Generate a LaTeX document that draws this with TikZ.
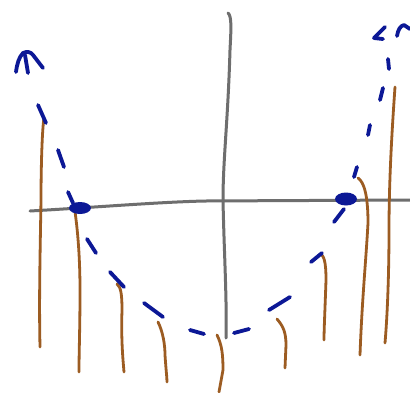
\documentclass[tikz,border=0pt]{standalone}
\definecolor{inkblue}{HTML}{0C1896}
\definecolor{inkbrown}{HTML}{9C5C22}
\definecolor{inkgray}{HTML}{6E6E6E}
\tikzset{
  axisline/.style={draw=inkgray,line width=3pt,line cap=round,line join=round},
  stick/.style={draw=inkbrown,line width=2.8pt,line cap=round,line join=round},
  dashpiece/.style={draw=inkblue,line width=3.8pt,line cap=round,line join=round},
  rootdot/.style={fill=inkblue}
}
\begin{document}
\begin{tikzpicture}[x=1pt,y=-1pt]
\useasboundingbox[fill=white] (0,0) rectangle (410,392);
% axes
\draw[axisline] (30,211) .. controls (100,207) and (160,202) .. (205,201) -- (410,200);
\draw[axisline] (228,13) .. controls (232,16) and (231,30) .. (230,50)
  .. controls (228,120) and (223,160) .. (223,200)
  .. controls (224,250) and (227,300) .. (226,338);
% brown sticks
\draw[stick] (44,118) .. controls (42,130) and (41,170) .. (41,200) .. controls (40,260) and (39,300) .. (40,347);
\draw[stick] (74,205) .. controls (78,230) and (80,260) .. (80,290) .. controls (80,330) and (79,350) .. (79,372);
\draw[stick] (117,284) .. controls (121,287) and (122,295) .. (122,310) .. controls (121,340) and (123,360) .. (124,372);
\draw[stick] (158,322) .. controls (163,332) and (165,345) .. (165,355) .. controls (166,370) and (167,378) .. (167,382);
\draw[stick] (217,335) .. controls (222,345) and (223,355) .. (223,370) -- (219,392);
\draw[stick] (277,319) .. controls (283,326) and (286,332) .. (286,345) -- (285,368);
\draw[stick] (320,254) .. controls (324,255) and (326,262) .. (326,280) .. controls (325,310) and (324,330) .. (324,340);
\draw[stick] (358,178) .. controls (364,182) and (368,195) .. (368,223) .. controls (366,260) and (362,300) .. (360,355);
\draw[stick] (395,87) .. controls (392,130) and (389,180) .. (389,230) .. controls (389,280) and (387,320) .. (385,343);
% dashed parabola pieces
\draw[dashpiece] (38,105) -- (46,123);
\draw[dashpiece] (58,150) -- (64,167);
\draw[dashpiece] (68,192) -- (73,203);
\draw[dashpiece] (87,239) -- (96,253);
\draw[dashpiece] (110,272) -- (124,287);
\draw[dashpiece] (144,303) -- (163,317);
\draw[dashpiece] (190,330) -- (204,334);
\draw[dashpiece] (234,333) -- (249,329);
\draw[dashpiece] (269,310) -- (290,297);
\draw[dashpiece] (311,262) -- (322,253);
\draw[dashpiece] (334,222) -- (344,209);
\draw[dashpiece] (354,177) -- (357,167);
\draw[dashpiece] (368,135) -- (370,125);
\draw[dashpiece] (380,100) -- (383,88);
\draw[dashpiece] (388,59) -- (389,69);
% arrow ends
\draw[dashpiece] (16,72) .. controls (17,64) and (19,57) .. (23,53) .. controls (27,51) and (31,52) .. (33,55) -- (43,68);
\draw[dashpiece] (25,55) -- (28,73);
\draw[dashpiece] (385,27) -- (374,38) -- (383,39);
\draw[dashpiece] (397,36) .. controls (398,30) and (400,26) .. (404,25) -- (410,29);
% root dots
\fill[rootdot] (80,208) ellipse (11 and 6);
\fill[rootdot] (346,199) ellipse (11 and 6.5);
\end{tikzpicture}
\end{document}
